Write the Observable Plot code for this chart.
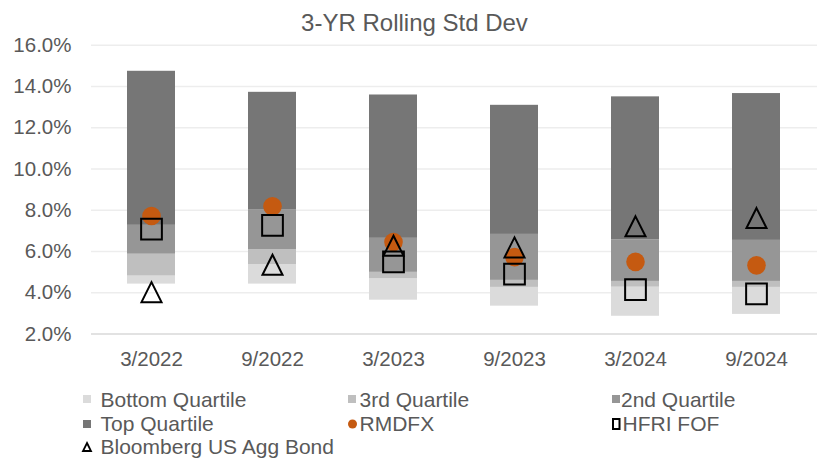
<!DOCTYPE html>
<html>
<head>
<meta charset="utf-8">
<script src="https://cdn.jsdelivr.net/npm/d3@7"></script>
<script src="https://cdn.jsdelivr.net/npm/@observablehq/plot@0.6"></script>
<style>
  html, body { margin: 0; padding: 0; background: #fff; }
  body { width: 817px; height: 459px; overflow: hidden; font-family: "Liberation Sans", Arial, sans-serif; }
  #title { height: 36px; box-sizing: border-box; padding-top: 11px; line-height: 24px; font-size: 24px; color: #595959; text-align: center; padding-left: 12px; }
  #chart svg { display: block; overflow: visible; }
  #legend { position: relative; width: 817px; height: 79px; }
  .item-text { position: absolute; font-size: 21px; line-height: 21px; color: #595959; white-space: nowrap; }
  .item-mark { position: absolute; overflow: visible; }
</style>
</head>
<body>
<div id="title">3-YR Rolling Std Dev</div>
<div id="chart"></div>
<div id="legend"></div>
<script>
// ---- Data (values in percent) ----
const periods   = ["3/2022", "9/2022", "3/2023", "9/2023", "3/2024", "9/2024"];
const bottomLow = [4.42, 4.42, 3.64, 3.35, 2.86, 2.95];   // bottom of Bottom Quartile
const q3Low     = [4.81, 5.37, 4.68, 4.26, 4.27, 4.26];   // bottom of 3rd Quartile
const q2Low     = [5.87, 6.09, 4.99, 4.60, 4.55, 4.55];   // bottom of 2nd Quartile
const topLow    = [7.27, 8.01, 6.64, 6.83, 6.57, 6.54];   // bottom of Top Quartile
const topHigh   = [14.74, 13.72, 13.59, 13.09, 13.50, 13.66]; // top of Top Quartile
const rmdfx     = [7.72, 8.19, 6.46, 5.73, 5.50, 5.33];
const hfri      = [7.09, 7.27, 5.50, 4.90, 4.15, 3.95];
const agg       = [4.03, 5.36, 6.28, 6.20, 7.22, 7.62];
const yTicks    = [2, 4, 6, 8, 10, 12, 14, 16];

const seriesNames = ["Bottom Quartile", "3rd Quartile", "2nd Quartile", "Top Quartile", "RMDFX", "HFRI FOF", "Bloomberg US Agg Bond"];
const colors = {
  "Bottom Quartile": "#dbdbdb",
  "3rd Quartile": "#bfbfbf",
  "2nd Quartile": "#969696",
  "Top Quartile": "#767676",
  "RMDFX": "#c55a11"
};

// Build table for bars
const segments = [];
periods.forEach((p, i) => {
  segments.push({period: p, series: "Bottom Quartile", y1: bottomLow[i], y2: q3Low[i]});
  segments.push({period: p, series: "3rd Quartile", y1: q3Low[i], y2: q2Low[i]});
  segments.push({period: p, series: "2nd Quartile", y1: q2Low[i], y2: topLow[i]});
  segments.push({period: p, series: "Top Quartile", y1: topLow[i], y2: topHigh[i]});
});
const points = periods.map((p, i) => ({period: p, rmdfx: rmdfx[i], hfri: hfri[i], agg: agg[i]}));

// Triangle symbol centred on its bounding box
const boxTriangle = {
  draw(ctx, size) {
    const s = Math.sqrt(size);
    ctx.moveTo(0, -s / 2);
    ctx.lineTo(s / 2, s / 2);
    ctx.lineTo(-s / 2, s / 2);
    ctx.closePath();
  }
};

const chart = Plot.plot({
  width: 817,
  height: 344,
  marginTop: 8.8,
  marginBottom: 46.5,
  marginLeft: 91,
  marginRight: 0,
  style: {fontFamily: "'Liberation Sans', Arial, sans-serif", fontSize: "20.5px", color: "#595959", background: "transparent"},
  x: {domain: periods, paddingInner: 0.6, paddingOuter: 0.3, label: null},
  y: {domain: [2, 16], label: null},
  marks: [
    Plot.ruleY(yTicks.filter(t => t > 2), {stroke: "#ededed", strokeWidth: 1.5}),
    Plot.ruleY([2], {stroke: "#d9d9d9", strokeWidth: 1.5}),
    Plot.barY(segments, {x: "period", y1: "y1", y2: "y2", fill: d => colors[d.series], inset: 0}),
    Plot.dot(points, {x: "period", y: "rmdfx", r: 9.3, fill: colors["RMDFX"], stroke: "none"}),
    Plot.dot(points, {x: "period", y: "hfri", r: 11.7, symbol: "square", fill: "none", stroke: "#000", strokeWidth: 2}),
    Plot.dot(points, {x: "period", y: "agg", r: 11.3, symbol: boxTriangle, fill: "none", stroke: "#000", strokeWidth: 2}),
    Plot.axisY({ticks: yTicks, tickSize: 0, tickPadding: 20, tickFormat: d => d.toFixed(1) + "%", fill: "#595959", label: null}),
    Plot.axisX({tickSize: 0, tickPadding: 17, fill: "#595959", label: null})
  ]
});
document.getElementById("chart").appendChild(chart);

// ---- Legend ----
const legend = document.getElementById("legend");
const layout = [
  {name: "Bottom Quartile", mx: 83, tx: 100.5, cy: 19},
  {name: "3rd Quartile", mx: 348, tx: 359.5, cy: 19},
  {name: "2nd Quartile", mx: 611.5, tx: 621, cy: 19},
  {name: "Top Quartile", mx: 83, tx: 100.5, cy: 43.5},
  {name: "RMDFX", mx: 348, tx: 359.5, cy: 43.5},
  {name: "HFRI FOF", mx: 611.5, tx: 622.5, cy: 43.5},
  {name: "Bloomberg US Agg Bond", mx: 83, tx: 100.5, cy: 66.5}
];
const NS = "http://www.w3.org/2000/svg";
layout.forEach(it => {
  const svg = document.createElementNS(NS, "svg");
  svg.setAttribute("class", "item-mark");
  svg.setAttribute("width", 12);
  svg.setAttribute("height", 14);
  svg.style.left = it.mx + "px";
  svg.style.top = (it.cy - 7) + "px";
  let shape;
  if (it.name === "RMDFX") {
    shape = document.createElementNS(NS, "circle");
    shape.setAttribute("cx", 4.5); shape.setAttribute("cy", 7); shape.setAttribute("r", 4.5);
    shape.setAttribute("fill", colors["RMDFX"]);
  } else if (it.name === "HFRI FOF") {
    shape = document.createElementNS(NS, "rect");
    shape.setAttribute("x", 1); shape.setAttribute("y", 2); shape.setAttribute("width", 6.5); shape.setAttribute("height", 10);
    shape.setAttribute("fill", "none"); shape.setAttribute("stroke", "#000"); shape.setAttribute("stroke-width", 2);
  } else if (it.name === "Bloomberg US Agg Bond") {
    shape = document.createElementNS(NS, "path");
    shape.setAttribute("d", "M4,3 L8,11 L0,11 Z");
    shape.setAttribute("fill", "none"); shape.setAttribute("stroke", "#000"); shape.setAttribute("stroke-width", 1.8);
  } else {
    shape = document.createElementNS(NS, "rect");
    shape.setAttribute("x", 0); shape.setAttribute("y", 3); shape.setAttribute("width", 8); shape.setAttribute("height", 8);
    shape.setAttribute("fill", colors[it.name]);
  }
  svg.appendChild(shape);
  legend.appendChild(svg);
  const t = document.createElement("div");
  t.className = "item-text";
  t.style.left = it.tx + "px";
  t.style.top = (it.cy - 10.3) + "px";
  t.textContent = it.name;
  legend.appendChild(t);
});
</script>
</body>
</html>
